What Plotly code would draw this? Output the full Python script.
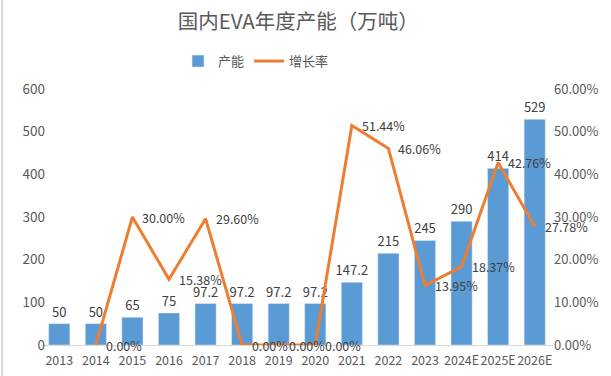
import plotly.graph_objects as go

years = ["2013", "2014", "2015", "2016", "2017", "2018", "2019", "2020",
         "2021", "2022", "2023", "2024E", "2025E", "2026E"]
capacity = [50, 50, 65, 75, 97.2, 97.2, 97.2, 97.2, 147.2, 215, 245, 290, 414, 529]
capacity_labels = ["50", "50", "65", "75", "97.2", "97.2", "97.2", "97.2",
                   "147.2", "215", "245", "290", "414", "529"]
growth = [None, 0.0, 0.30, 0.1538, 0.2960, 0.0, 0.0, 0.0,
          0.5144, 0.4606, 0.1395, 0.1837, 0.4276, 0.2778]

growth_labels = ["" if g is None else f"{g*100:.2f}%" for g in growth]

FONT = "Noto Sans CJK SC"
fig = go.Figure()
fig.add_trace(go.Bar(
    x=years, y=capacity, name="产能",
    marker_color="#5B9BD5",
    text=capacity_labels, textposition="outside", constraintext="none",
    textfont=dict(size=13, color="#404040", family=FONT),
    cliponaxis=False,
))
fig.add_trace(go.Scatter(
    x=years, y=growth, name="增长率", yaxis="y2",
    mode="lines",
    line=dict(color="#ED7D31", width=3),
    cliponaxis=False,
))
for i, (g, t) in enumerate(zip(growth, growth_labels)):
    if g is None:
        continue
    fig.add_annotation(x=i, xref="x", y=g, yref="y2", text=t, showarrow=False,
                       xanchor="left", yanchor="middle", xshift=8,
                       font=dict(size=12.5, color="#404040", family=FONT))

fig.update_layout(
    width=611, height=376,
    margin=dict(l=41, r=58, t=89, b=31),
    paper_bgcolor="white", plot_bgcolor="white",
    font=dict(family=FONT, color="#595959", size=13),
    title=dict(text="国内EVA年度产能（万吨）", x=0.488, xanchor="center", y=0.941, yanchor="middle",
               font=dict(size=20.5, color="#595959", family=FONT)),
    bargap=0.42,
    showlegend=True,
    legend=dict(orientation="h", x=0.42, xanchor="center", y=1.109, yanchor="middle",
                font=dict(size=13, color="#595959", family=FONT), bgcolor="rgba(0,0,0,0)"),
    xaxis=dict(type="category", range=[-0.5, len(years) - 0.5], showgrid=False, showline=True,
               linecolor="#D9D9D9", linewidth=1,
               ticks="", tickangle=0, automargin=False, ticklabelstandoff=4,
               tickfont=dict(size=12.5, color="#595959")),
    yaxis=dict(range=[0, 600], dtick=100, showgrid=False, zeroline=False, showline=False,
               ticks="", automargin=False, ticklabelstandoff=-5,
               tickfont=dict(size=13.5, color="#595959")),
    yaxis2=dict(range=[0, 0.6], dtick=0.1, tickformat=".2%", overlaying="y", side="right",
                showgrid=False, zeroline=False, showline=False, ticks="", automargin=False,
                tickfont=dict(size=13, color="#595959")),
)
fig.add_shape(type="line", xref="paper", yref="paper", x0=-0.076, x1=-0.076, y0=-0.2, y1=1.4,
              line=dict(color="#D9D9D9", width=2))
fig.write_html("out.html", config={"displayModeBar": False},
               post_script="document.body.style.margin='0px';")
